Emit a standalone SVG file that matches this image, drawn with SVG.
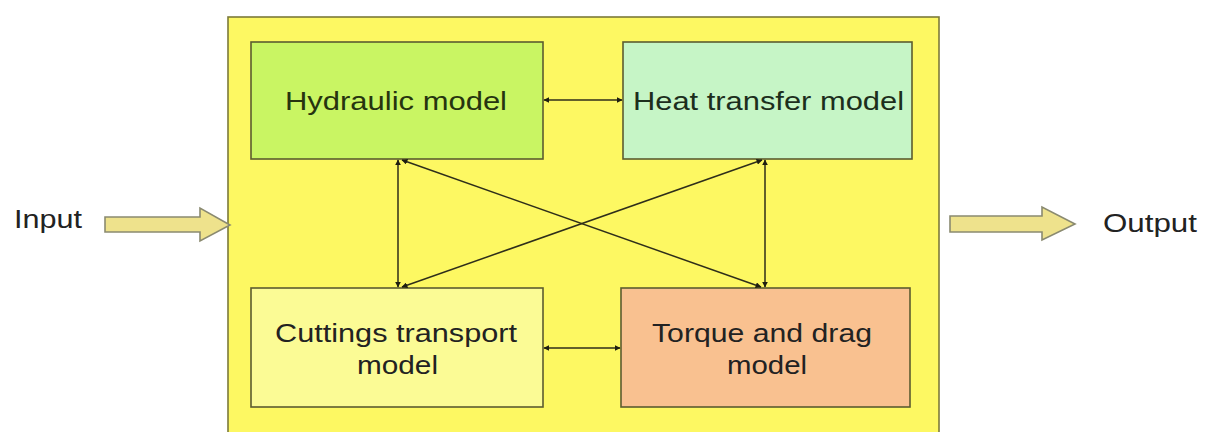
<svg xmlns="http://www.w3.org/2000/svg" width="1205" height="432" viewBox="0 0 1205 432">
  <style>
    .box { stroke: #5c5c30; stroke-width: 1.6; }
    .lbl { font-family: "Liberation Sans", Arial, sans-serif; font-size: 25px; fill: #222; }
    .conn { stroke: #2e2e1a; stroke-width: 1.5; fill: none; marker-start: url(#ah); marker-end: url(#ah); }
    .blk { fill: #eee28c; stroke: #8a8a70; stroke-width: 1.6; }
  </style>
  <defs>
    <marker id="ah" viewBox="0 0 10 10" refX="9" refY="5" markerWidth="6" markerHeight="6" markerUnits="userSpaceOnUse" orient="auto-start-reverse">
      <path d="M0,0 L10,5 L0,10 Z" fill="#1e1e10"/>
    </marker>
  </defs>
  <rect width="1205" height="432" fill="#ffffff"/>

  <g id="system">
    <rect x="228" y="17" width="711" height="425" fill="#fdf862" stroke="#7c7a3a" stroke-width="1.6"/>
  </g>

  <g id="input">
    <path class="blk" d="M105,217 L200,217 L200,208 L230,225 L200,241 L200,232 L105,232 Z"/>
    <text class="lbl" x="14" y="228" textLength="68" lengthAdjust="spacingAndGlyphs">Input</text>
  </g>

  <g id="output">
    <path class="blk" d="M950,216 L1042,216 L1042,207 L1075,224 L1042,240 L1042,232 L950,232 Z"/>
    <text class="lbl" x="1103" y="232" textLength="94" lengthAdjust="spacingAndGlyphs">Output</text>
  </g>

  <g id="hydraulic">
    <rect class="box" x="251" y="42" width="292" height="117" fill="#c9f563"/>
    <text class="lbl" x="285" y="110" textLength="222" lengthAdjust="spacingAndGlyphs" fill="#26340f" style="fill:#26340f">Hydraulic model</text>
  </g>

  <g id="heat">
    <rect class="box" x="623" y="42" width="289" height="117" fill="#c6f5c6"/>
    <text class="lbl" x="633" y="110" textLength="271" lengthAdjust="spacingAndGlyphs" style="fill:#1c2e1c">Heat transfer model</text>
  </g>

  <g id="cuttings">
    <rect class="box" x="251" y="288" width="292" height="119" fill="#fbfb95"/>
    <text class="lbl" x="275" y="342" textLength="242" lengthAdjust="spacingAndGlyphs">Cuttings transport</text>
    <text class="lbl" x="357" y="374" textLength="81" lengthAdjust="spacingAndGlyphs">model</text>
  </g>

  <g id="torque">
    <rect class="box" x="621" y="288" width="289" height="119" fill="#f9c190"/>
    <text class="lbl" x="652" y="342" textLength="220" lengthAdjust="spacingAndGlyphs">Torque and drag</text>
    <text class="lbl" x="727" y="374" textLength="80" lengthAdjust="spacingAndGlyphs">model</text>
  </g>

  <g id="connectors">
    <line class="conn" x1="544" y1="100" x2="622" y2="100"/>
    <line class="conn" x1="544" y1="348" x2="620" y2="348"/>
    <line class="conn" x1="398" y1="160" x2="398" y2="287"/>
    <line class="conn" x1="765" y1="160" x2="765" y2="287"/>
    <line class="conn" x1="402" y1="160" x2="761" y2="287"/>
    <line class="conn" x1="762" y1="160" x2="402" y2="287"/>
  </g>
</svg>
